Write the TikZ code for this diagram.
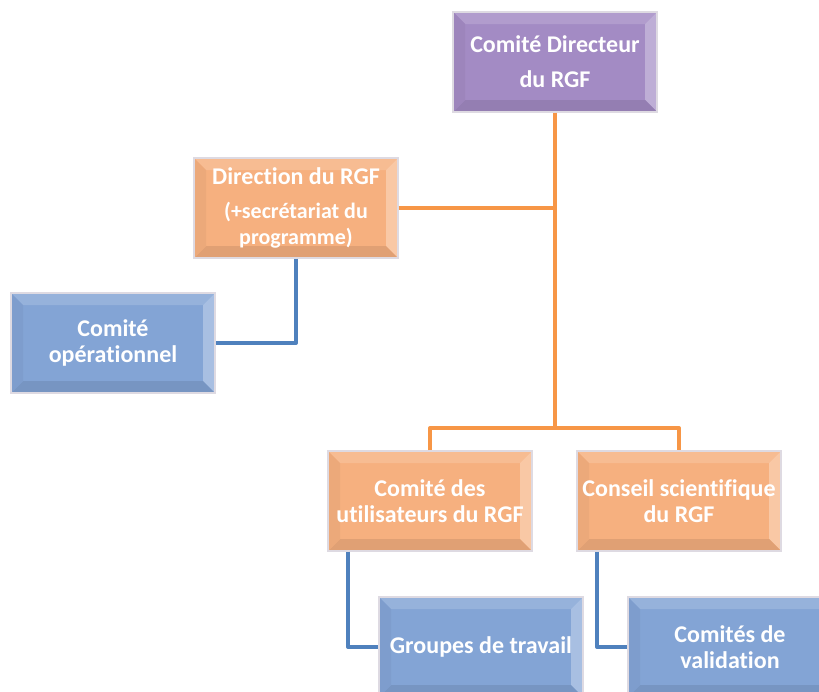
\documentclass[tikz,border=0pt]{standalone}
\usepackage{fontspec}
\setmainfont{Carlito}[Ligatures=NoCommon]
\definecolor{purpB}{RGB}{163,139,196}
\definecolor{orB}{RGB}{246,176,127}
\definecolor{blB}{RGB}{131,164,213}
\definecolor{orLine}{RGB}{247,150,70}
\definecolor{blLine}{RGB}{79,129,189}
\definecolor{rim}{RGB}{222,218,226}
\tikzset{
  bevbox/.style={
    rectangle, minimum width=204pt, minimum height=100pt, inner sep=0pt,
    fill=#1, draw=rim, line width=1.2pt, text=white, align=center,
    font=\fontsize{24}{26}\selectfont\bfseries,
    path picture={
      \def\pb{path picture bounding box}
      \fill[#1!85!white] (\pb.north west) -- (\pb.north east)
        -- ([shift={(-12pt,-12pt)}]\pb.north east) -- ([shift={(12pt,-12pt)}]\pb.north west) -- cycle;
      \fill[#1!70!white] (\pb.north east) -- (\pb.south east)
        -- ([shift={(-12pt,12pt)}]\pb.south east) -- ([shift={(-12pt,-12pt)}]\pb.north east) -- cycle;
      \fill[#1!91!black] (\pb.south west) -- (\pb.south east)
        -- ([shift={(-12pt,12pt)}]\pb.south east) -- ([shift={(12pt,12pt)}]\pb.south west) -- cycle;
      \fill[#1!96!black] (\pb.north west) -- (\pb.south west)
        -- ([shift={(12pt,12pt)}]\pb.south west) -- ([shift={(12pt,-12pt)}]\pb.north west) -- cycle;
    }},
  orconn/.style={draw=orLine, line width=4pt, line join=round},
  blconn/.style={draw=blLine, line width=4pt, line join=round}
}
\begin{document}
\begin{tikzpicture}[x=1pt,y=-1pt]
\useasboundingbox (0,0) rectangle (819,691);
\begin{scope}
\clip (0,0) rectangle (819,691);
\node[bevbox=purpB] (top) at (555,62) {Comité Directeur\\[9pt]du RGF};
\node[bevbox=orB] (dir) at (296,208) {Direction du RGF\\[8pt]\fontsize{22}{25}\selectfont(+secrétariat du\\\fontsize{22}{25}\selectfont programme)};
\node[bevbox=blB] (op) at (113,343) {Comité\\opérationnel};
\node[bevbox=orB] (util) at (430,501) {Comité des\\utilisateurs du RGF};
\node[bevbox=orB] (cons) at (679,501) {Conseil scientifique\\du RGF};
\node[bevbox=blB] (grp) at (481,647) {Groupes de travail};
\node[bevbox=blB] (val) at (730,647) {Comités de\\validation};
\coordinate (j) at (555,428);
\draw[orconn] (top.south) -- (j);
\draw[orconn] (dir.east) -- (dir.east -| top.south);
\draw[orconn] (util.north) |- (j) -| (cons.north);
\draw[blconn] (dir.south) |- (op.east);
\draw[blconn] ([xshift=-82pt]util.south) |- (grp.west);
\draw[blconn] ([xshift=-82pt]cons.south) |- (val.west);
\end{scope}
\end{tikzpicture}
\end{document}
